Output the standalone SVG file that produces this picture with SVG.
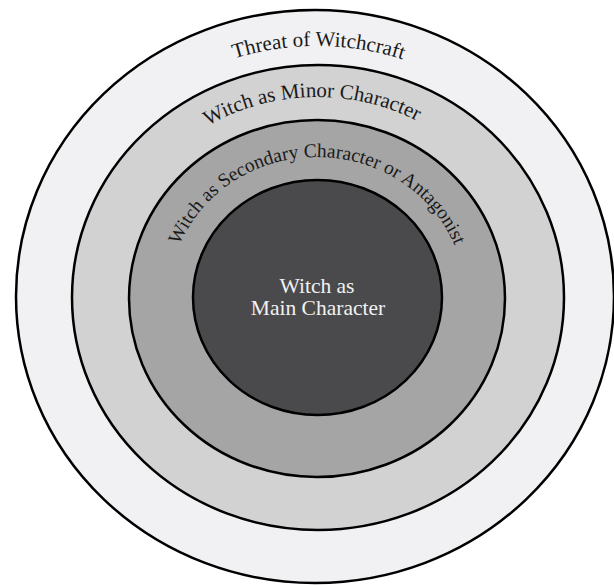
<svg xmlns="http://www.w3.org/2000/svg" width="614" height="585" viewBox="0 0 614 585">
  <style>
    .ring { stroke: #000; stroke-width: 2.5; }
    .lbl { font-family: "Liberation Serif", "DejaVu Serif", serif; fill: #1a1a1a; }
    .l1 { font-size: 21px; }
    .l2 { font-size: 21px; }
    .l3 { font-size: 19.5px; }
    .center { font-family: "Liberation Serif", "DejaVu Serif", serif; font-size: 21.5px; fill: #f2f2f2; text-anchor: middle; }
  </style>
  <defs>
    <path id="p1" d="M 52 297 A 265 251 0 0 1 582 297"/>
    <path id="p2" d="M 106 297 A 211 200 0 0 1 528 297"/>
    <path id="p3" d="M 169 297 A 148 140 0 0 1 465 297"/>
  </defs>
  <rect width="614" height="585" fill="#ffffff"/>
  <g id="threat">
    <ellipse class="ring" cx="315" cy="296.5" rx="299" ry="286.5" fill="#f1f1f3"/>
    <text class="lbl l1"><textPath href="#p1" startOffset="50.2%" text-anchor="middle">Threat of Witchcraft</textPath></text>
  </g>
  <g id="minor">
    <ellipse class="ring" cx="318" cy="297.5" rx="246" ry="232.5" fill="#d2d2d2"/>
    <text class="lbl l2"><textPath href="#p2" startOffset="49.2%" text-anchor="middle">Witch as Minor Character</textPath></text>
  </g>
  <g id="secondary">
    <ellipse class="ring" cx="317" cy="298.5" rx="188" ry="178.5" fill="#a5a5a5"/>
    <text class="lbl l3"><textPath href="#p3" startOffset="50%" text-anchor="middle">Witch as Secondary Character or Antagonist</textPath></text>
  </g>
  <g id="main">
    <ellipse class="ring" cx="317.5" cy="297.5" rx="124.5" ry="117.5" fill="#4a4a4c"/>
    <text class="center" x="317" y="293">Witch as</text>
    <text class="center" x="318" y="315">Main Character</text>
  </g>
</svg>
